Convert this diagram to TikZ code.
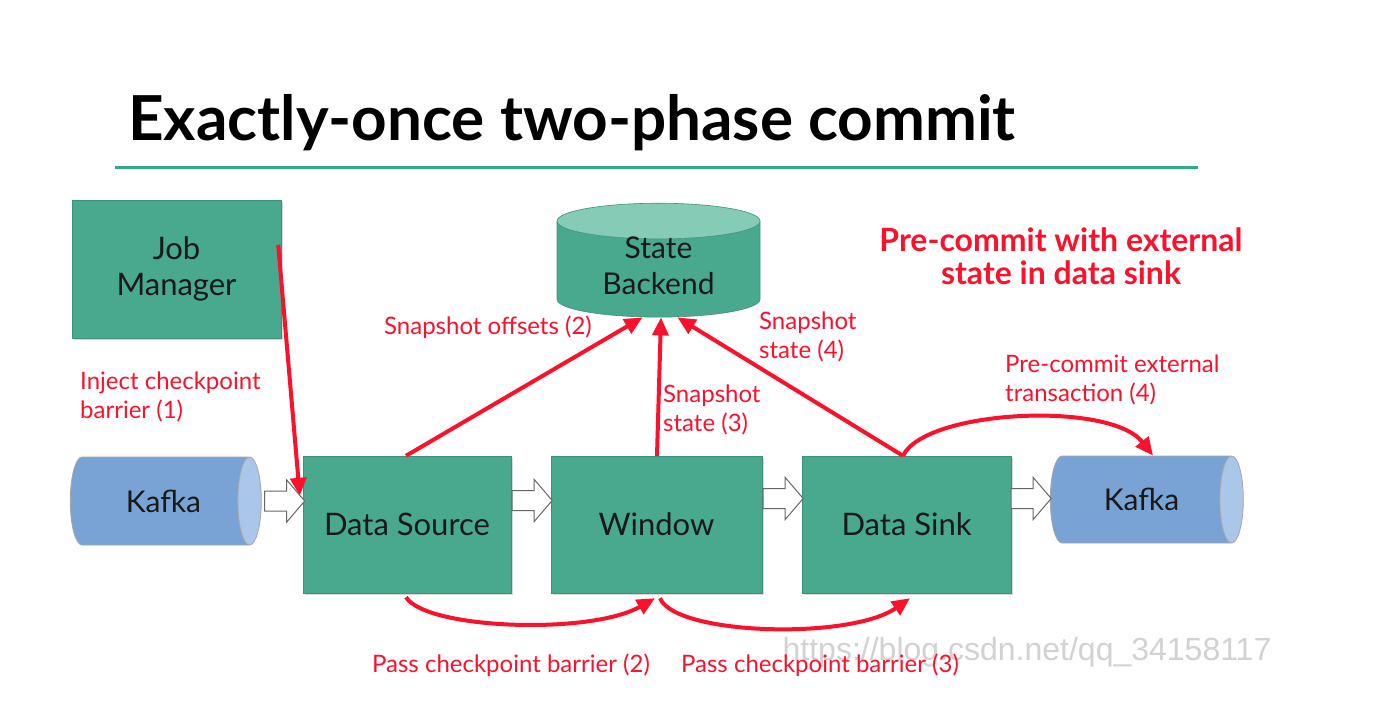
\documentclass[tikz,border=0pt]{standalone}
\usepackage{fontspec}
\setmainfont{Lato}
\newfontfamily\markfont{Liberation Sans}
\usetikzlibrary{arrows.meta,shapes.geometric,shadows}

\definecolor{boxgreen}{RGB}{72,169,143}
\definecolor{lidgreen}{RGB}{134,203,182}
\definecolor{kafkablue}{RGB}{121,163,213}
\definecolor{kafkaend}{RGB}{170,198,232}
\definecolor{linegreen}{RGB}{45,172,140}
\definecolor{markred}{RGB}{250,18,45}
\definecolor{textdark}{RGB}{25,25,25}

\tikzset{
  stagebox/.style={draw=boxgreen!85!black, line width=0.4pt, fill=boxgreen, text=textdark,
    align=center, font=\fontsize{31}{36}\selectfont,
    drop shadow={shadow xshift=1.5pt, shadow yshift=-1.5pt, opacity=0.3}},
  kafkadb/.style={cylinder, draw=gray!70, line width=0.8pt, shape aspect=0.8,
    cylinder uses custom fill, cylinder body fill=kafkablue, cylinder end fill=kafkaend,
    text=textdark, font=\fontsize{30}{36}\selectfont},
  redarrow/.style={draw=markred, line width=4pt, -{Triangle[length=18pt,width=16pt]}},
  redlabel/.style={text=markred, font=\fontsize{24}{29}\selectfont, align=left, inner sep=0pt},
  hollowstyle/.style={draw=gray!80!black, fill=white, line width=1pt, line join=miter},
}

% hohler Blockpfeil, Startpunkt = Mitte des Schafts links
\newcommand{\hollowarrow}[1]{%
  \draw[hollowstyle] #1 ++(0,-10) -- ++(22,0) -- ++(0,-11) -- ++(18,21) -- ++(-18,21)
    -- ++(0,-11) -- ++(-22,0) -- cycle;}

\begin{document}
\begin{tikzpicture}[x=1pt,y=-1pt]
  \useasboundingbox[fill=white] (0,0) rectangle (1382,718);

  % Titel
  \node[anchor=base west, inner sep=0pt, font=\fontsize{62}{64}\selectfont\bfseries] (title) at (128,140) {Exactly-once two-phase commit};
  \draw[linegreen, line width=3pt] (115,167) -- (1198,167);

  % Wasserzeichen
  \node[text=gray!35, font=\markfont\fontsize{32}{36}\selectfont] (mark) at (1027,652) {https://blog.csdn.net/qq\_34158117};

  % Knoten
  \node[stagebox, minimum width=209pt, minimum height=138pt] (jm) at (176.5,269) {Job\\Manager};
  \node[stagebox, minimum width=208pt, minimum height=137pt] (src) at (407,524.5) {Data Source};
  \node[stagebox, minimum width=211pt, minimum height=137pt] (win) at (656.5,524.5) {Window};
  \node[stagebox, minimum width=209pt, minimum height=137pt] (sink) at (906.5,524.5) {Data Sink};
  \node[kafkadb, minimum height=191pt, minimum width=88pt] (kafkaL) at (157.5,501) {\hspace*{12pt}Kafka};
  \node[kafkadb, minimum height=193pt, minimum width=87pt] (kafkaR) at (1138.5,499.5) {\hspace*{6pt}Kafka};
  \node[cylinder, shape border rotate=90, shape aspect=0.3, draw=boxgreen!85!black, line width=0.6pt,
    cylinder uses custom fill, cylinder body fill=boxgreen, cylinder end fill=lidgreen,
    minimum width=203pt, minimum height=100pt, align=center,
    font=\fontsize{30}{36}\selectfont] (sb) at (658.5,271.5) {\phantom{State}\\\phantom{Backend}};
  \node[align=center, text=textdark, font=\fontsize{30}{36}\selectfont] (sbtext) at (658.5,266) {State\\Backend};

  % Datenfluss
  \hollowarrow{([xshift=3pt]kafkaL.east)}
  \hollowarrow{([shift={(1,-24)}]src.east)}
  \hollowarrow{([shift={(1,-26)}]win.east)}
  \hollowarrow{([shift={(0,-26)}]sink.east)}

  % Checkpoint-Pfeile
  \draw[redarrow] ([shift={(-3,45)}]jm.north east) -- ([shift={(-3,40)}]src.north west);
  \draw[redarrow] ([xshift=-1pt]src.north) -- ([xshift=-16pt]sb.south);
  \draw[redarrow] ([xshift=0.5pt]win.north) -- ([xshift=2.5pt]sb.south);
  \draw[redarrow] ([xshift=-3.5pt]sink.north) -- ([xshift=19pt]sb.south);
  \draw[redarrow] ([xshift=-3.5pt]sink.north) .. controls +(22,-46) and +(-43,-55) .. ([xshift=14.5pt]kafkaR.north);
  \draw[redarrow] ([shift={(-1,4)}]src.south) .. controls +(20,32) and +(-65,37) .. ([shift={(-1.5,5)}]win.south);
  \draw[redarrow] ([shift={(3.5,5)}]win.south) .. controls +(15,37) and +(-60,42) .. ([shift={(3.5,5)}]sink.south);

  % Beschriftungen
  \node[redlabel, anchor=west] (injectlbl) at (80,397) {Inject checkpoint\\barrier (1)};
  \node[redlabel] (offlbl) at (488,327) {Snapshot offsets (2)};
  \node[redlabel, anchor=west] (st3lbl) at (663,410) {Snapshot\\state (3)};
  \node[redlabel, anchor=west] (st4lbl) at (759,337) {Snapshot\\state (4)};
  \node[redlabel, anchor=west] (prelbl) at (1005,380) {Pre-commit external\\transaction (4)};
  \node[redlabel] (pass2lbl) at (511,665) {Pass checkpoint barrier (2)};
  \node[redlabel] (pass3lbl) at (820,665) {Pass checkpoint barrier (3)};
  \node[text=markred, align=center, font=\fontsize{32}{33}\selectfont\bfseries] (headlbl) at (1061,256) {Pre-commit with external\\state in data sink};
\end{tikzpicture}
\end{document}
